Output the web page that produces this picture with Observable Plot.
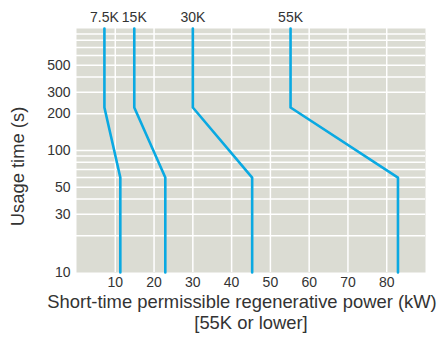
<!DOCTYPE html>
<html><head><meta charset="utf-8">
<script src="https://cdn.jsdelivr.net/npm/d3@7"></script>
<script src="https://cdn.jsdelivr.net/npm/@observablehq/plot@0.6"></script>
<style>body{margin:0;background:#fff;}</style>
</head><body><div id="chart"></div>
<script>
const series = ["7.5K", "15K", "30K", "55K"];
const usageTimes = [1000, 225, 60, 10];
const power75K = [7.2, 7.2, 11.3, 11.3];
const power15K = [14.9, 14.9, 22.9, 22.9];
const power30K = [30, 30, 45.3, 45.3];
const power55K = [55.2, 55.2, 82.9, 82.9];
const xTicks = [10, 20, 30, 40, 50, 60, 70, 80];
const yTicks = [10, 30, 50, 100, 200, 300, 500];
const yGrid = [20, 30, 40, 50, 60, 70, 80, 90, 100, 200, 300, 400, 500, 600, 700, 800, 900];
const xTitle = ["Short-time permissible regenerative power (kW)", "[55K or lower]"];
const yTitle = "Usage time (s)";

const powers = [power75K, power15K, power30K, power55K];
const rows = series.flatMap((s, i) => usageTimes.map((t, j) => ({series: s, time: t, power: powers[i][j]})));
const tops = series.map((s, i) => ({series: s, power: powers[i][0], time: usageTimes[0]}));

const font = "Liberation Sans, Arial, Helvetica, sans-serif";
const chart = Plot.plot({
  width: 442, height: 340,
  marginLeft: 76, marginRight: 17, marginTop: 28, marginBottom: 68,
  style: {fontFamily: font, fontSize: "14px", color: "#333", background: "#fff"},
  x: {domain: [0, 90], ticks: xTicks, tickSize: 0, tickPadding: 5, label: null},
  y: {type: "log", domain: [10, 1000], ticks: yTicks, tickFormat: d => String(d), tickSize: 0, tickPadding: 6, label: null},
  marks: [
    Plot.frame({fill: "#dbdcd3", stroke: null}),
    Plot.ruleX(xTicks, {stroke: "#fff", strokeWidth: 1.5}),
    Plot.ruleY(yGrid, {stroke: "#fff", strokeWidth: 1.5}),
    Plot.line(rows, {x: "power", y: "time", z: "series", stroke: "#0aa9e2", strokeWidth: 2.6}),
    Plot.text(tops, {x: "power", y: "time", text: "series", dy: -11, fontSize: 14, fill: "#333"}),
    Plot.axisX({ticks: xTicks, tickSize: 0, tickPadding: 5, fontSize: 14, label: null}),
    Plot.axisY({ticks: yTicks, tickFormat: d => String(d), tickSize: 0, tickPadding: 6, fontSize: 14, label: null}),
    Plot.text([xTitle[0]], {frameAnchor: "bottom", dy: 35, dx: -9, fontSize: 18.4, fill: "#333"}),
    Plot.text([xTitle[1]], {frameAnchor: "bottom", dy: 56, fontSize: 18.4, fill: "#333"}),
    Plot.text([yTitle], {frameAnchor: "left", textAnchor: "middle", dx: -58, dy: 16, rotate: -90, fontSize: 18.4, fill: "#333"})
  ]
});
document.getElementById("chart").append(chart);
</script>
</body></html>
